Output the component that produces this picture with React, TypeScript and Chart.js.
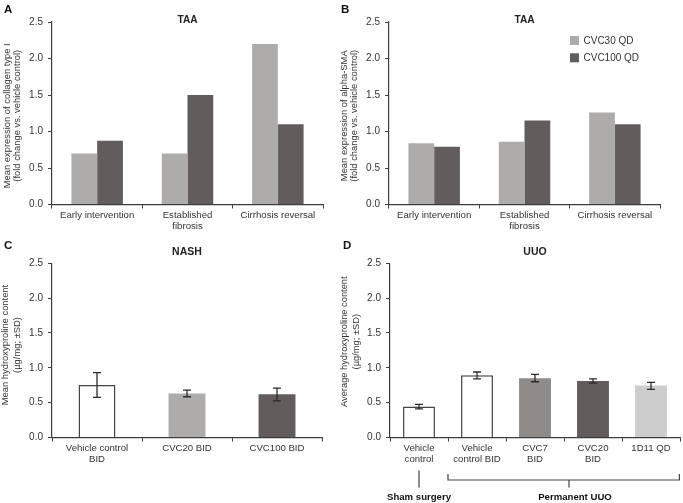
import React, { useEffect, useRef } from 'react';
import { Chart, registerables } from 'chart.js';

Chart.register(...registerables);

// ---------- data ----------
const taaCategories = [['Early intervention'], ['Established', 'fibrosis'], ['Cirrhosis reversal']];
const seriesNames = ['CVC30 QD', 'CVC100 QD'];
const collagenCVC30 = [0.70, 0.70, 2.20];
const collagenCVC100 = [0.875, 1.50, 1.10];
const smaCVC30 = [0.84, 0.86, 1.26];
const smaCVC100 = [0.79, 1.15, 1.10];

const nashCategories = [['Vehicle control', 'BID'], ['CVC20 BID'], ['CVC100 BID']];
const nashMeans = [0.755, 0.63, 0.62];
const nashLow = [0.575, 0.585, 0.525];
const nashHigh = [0.93, 0.68, 0.71];

const uuoCategories = [['Vehicle', 'control'], ['Vehicle', 'control BID'], ['CVC7', 'BID'], ['CVC20', 'BID'], ['1D11 QD']];
const uuoMeans = [0.445, 0.895, 0.85, 0.81, 0.745];
const uuoLow = [0.41, 0.84, 0.80, 0.78, 0.69];
const uuoHigh = [0.475, 0.94, 0.905, 0.84, 0.79];

const yTickValues = [0, 0.5, 1.0, 1.5, 2.0, 2.5];
const yTickLabels = ['0.0', '0.5', '1.0', '1.5', '2.0', '2.5'];

const panelTitles = ['TAA', 'TAA', 'NASH', 'UUO'];
const panelLetters = ['A', 'B', 'C', 'D'];
const yTitlesA = ['Mean expression of collagen type I', '(fold change vs. vehicle control)'];
const yTitlesB = ['Mean expression of alpha-SMA', '(fold change vs. vehicle control)'];
const yTitlesC = ['Mean hydroxyproline content', '(µg/mg; ±SD)'];
const yTitlesD = ['Average hydroxyproline content', '(µg/mg; ±SD)'];
const groupLabels = ['Sham surgery', 'Permanent UUO'];

// ---------- style ----------
const FONT = "'Liberation Sans', Arial, Helvetica, sans-serif";
const AXIS = '#3d3d3d';
const TEXT = '#333333';
const LIGHT = '#adacab';
const DARK = '#625c5c';
const MID = '#8e8b89';
const PALE = '#cdcdcd';
const WHITE = '#ffffff';
const OUTLINE = '#454545';

function xAxis(height: number) {
  return {
    afterFit: (s: any) => {
      s.height = height;
      s.paddingLeft = 0;
      s.paddingRight = 0;
    },
    ticks: {
      color: TEXT,
      font: { size: 9.6, family: FONT, lineHeight: 1.2 },
      padding: 1,
      maxRotation: 0,
      autoSkip: false,
    },
    grid: { offset: true, drawOnChartArea: false, drawTicks: true, tickLength: 4, color: AXIS, lineWidth: 1 },
    border: { display: true, color: AXIS, width: 1.2 },
  };
}

function yAxis(width: number) {
  return {
    min: 0,
    max: 2.5,
    afterFit: (s: any) => {
      s.width = width;
      s.paddingTop = 0;
      s.paddingBottom = 0;
    },
    afterBuildTicks: (s: any) => {
      s.ticks = yTickValues.map((v) => ({ value: v }));
    },
    ticks: {
      color: TEXT,
      font: { size: 10, family: FONT },
      padding: 5,
      callback: (_v: any, i: number) => yTickLabels[i],
    },
    grid: { drawOnChartArea: false, drawTicks: true, tickLength: 4, color: AXIS, lineWidth: 1 },
    border: { display: true, color: AXIS, width: 1.2 },
  };
}

function titlePlugin(text: string, y: number, size: number) {
  return {
    id: 'panelTitle',
    afterDraw(chart: any) {
      const { ctx, chartArea } = chart;
      ctx.save();
      ctx.font = `bold ${size}px ${FONT}`;
      ctx.fillStyle = '#222';
      ctx.textAlign = 'center';
      ctx.textBaseline = 'middle';
      ctx.fillText(text, (chartArea.left + chartArea.right) / 2, y);
      ctx.restore();
    },
  };
}

function yTitlePlugin(lines: string[], xs: number[], yOffset: number, size: number) {
  return {
    id: 'yTitle',
    afterDraw(chart: any) {
      const { ctx, chartArea } = chart;
      const cy = (chartArea.top + chartArea.bottom) / 2 + yOffset;
      ctx.save();
      ctx.font = `${size}px ${FONT}`;
      ctx.fillStyle = TEXT;
      ctx.textAlign = 'center';
      ctx.textBaseline = 'middle';
      lines.forEach((line, i) => {
        ctx.save();
        ctx.translate(xs[i], cy);
        ctx.rotate(-Math.PI / 2);
        ctx.fillText(line, 0, 0);
        ctx.restore();
      });
      ctx.restore();
    },
  };
}

function errorBarPlugin(low: number[], high: number[]) {
  return {
    id: 'errorBars',
    afterDatasetsDraw(chart: any) {
      const meta = chart.getDatasetMeta(0);
      const y = chart.scales.y;
      const ctx = chart.ctx;
      ctx.save();
      ctx.strokeStyle = '#2b2b2b';
      ctx.lineWidth = 1.3;
      meta.data.forEach((bar: any, i: number) => {
        const x = bar.x;
        const yl = y.getPixelForValue(low[i]);
        const yh = y.getPixelForValue(high[i]);
        ctx.beginPath();
        ctx.moveTo(x, yl);
        ctx.lineTo(x, yh);
        ctx.moveTo(x - 4, yl);
        ctx.lineTo(x + 4, yl);
        ctx.moveTo(x - 4, yh);
        ctx.lineTo(x + 4, yh);
        ctx.stroke();
      });
      ctx.restore();
    },
  };
}

const boxLegendPlugin = {
  id: 'boxLegend',
  afterDraw(chart: any) {
    const { ctx, chartArea } = chart;
    const x0 = chartArea.right - 90;
    ctx.save();
    ctx.font = `10px ${FONT}`;
    ctx.textBaseline = 'middle';
    ctx.textAlign = 'left';
    chart.data.datasets.forEach((ds: any, i: number) => {
      const y = chartArea.top + 14 + i * 17.3;
      ctx.fillStyle = ds.backgroundColor;
      ctx.fillRect(x0, y, 9, 9);
      ctx.fillStyle = TEXT;
      ctx.fillText(ds.label, x0 + 13.5, y + 4.8);
    });
    ctx.restore();
  },
};

const bracketPlugin = {
  id: 'groupBrackets',
  afterDraw(chart: any) {
    const { ctx, chartArea } = chart;
    const xs = chart.scales.x;
    const step = xs.getPixelForValue(1) - xs.getPixelForValue(0);
    const c0 = xs.getPixelForValue(0);
    const bStart = c0 + step / 2;
    const bEnd = chartArea.right;
    const base = chartArea.bottom;
    const mid = (bStart + bEnd) / 2 + 5;
    ctx.save();
    ctx.strokeStyle = '#444';
    ctx.lineWidth = 1.2;
    ctx.beginPath();
    // sham surgery
    ctx.moveTo(c0, base + 33);
    ctx.lineTo(c0, base + 50);
    // permanent UUO bracket
    ctx.moveTo(bStart, base + 36.5);
    ctx.lineTo(bStart, base + 42.5);
    ctx.lineTo(bEnd - 0.6, base + 42.5);
    ctx.lineTo(bEnd - 0.6, base + 36.5);
    ctx.moveTo(mid, base + 42.5);
    ctx.lineTo(mid, base + 50);
    ctx.stroke();
    ctx.font = `bold 9.6px ${FONT}`;
    ctx.fillStyle = '#111';
    ctx.textAlign = 'center';
    ctx.textBaseline = 'middle';
    ctx.fillText(groupLabels[0], c0, base + 59.5);
    ctx.fillText(groupLabels[1], mid + 6, base + 59.5);
    ctx.restore();
  },
};

function baseOptions(o: { top: number; right: number; xHeight: number; yWidth: number }) {
  return {
    responsive: false,
    animation: false,
    events: [],
    layout: { padding: { top: o.top, right: o.right, left: 0, bottom: 0 } },
    plugins: { legend: { display: false }, tooltip: { enabled: false }, title: { display: false } },
    scales: { x: xAxis(o.xHeight), y: yAxis(o.yWidth) },
  };
}

function configA() {
  return {
    type: 'bar',
    data: {
      labels: taaCategories,
      datasets: [
        { label: seriesNames[0], data: collagenCVC30, backgroundColor: LIGHT, categoryPercentage: 0.57, barPercentage: 1 },
        { label: seriesNames[1], data: collagenCVC100, backgroundColor: DARK, categoryPercentage: 0.57, barPercentage: 1 },
      ],
    },
    options: baseOptions({ top: 22, right: 17, xHeight: 35.5, yWidth: 52 }),
    plugins: [titlePlugin(panelTitles[0], 20, 10.2), yTitlePlugin(yTitlesA, [7.8, 17.2], 2.5, 9.4)],
  };
}

function configB() {
  return {
    type: 'bar',
    data: {
      labels: taaCategories,
      datasets: [
        { label: seriesNames[0], data: smaCVC30, backgroundColor: LIGHT, categoryPercentage: 0.57, barPercentage: 1 },
        { label: seriesNames[1], data: smaCVC100, backgroundColor: DARK, categoryPercentage: 0.57, barPercentage: 1 },
      ],
    },
    options: baseOptions({ top: 22, right: 23, xHeight: 35.5, yWidth: 49 }),
    plugins: [titlePlugin(panelTitles[1], 20, 10.2), yTitlePlugin(yTitlesB, [4.5, 14.3], 2.5, 9.4), boxLegendPlugin],
  };
}

function configC() {
  return {
    type: 'bar',
    data: {
      labels: nashCategories,
      datasets: [
        {
          label: 'NASH',
          data: nashMeans,
          backgroundColor: [WHITE, LIGHT, DARK],
          borderColor: [OUTLINE, LIGHT, DARK],
          borderWidth: [1.5, 0, 0],
          categoryPercentage: 0.41,
          barPercentage: 1,
        },
      ],
    },
    options: baseOptions({ top: 23.3, right: 18, xHeight: 65.5, yWidth: 52 }),
    plugins: [titlePlugin(panelTitles[2], 12.5, 10.5), yTitlePlugin(yTitlesC, [5.8, 17.3], -5.4, 9.4), errorBarPlugin(nashLow, nashHigh)],
  };
}

function configD() {
  return {
    type: 'bar',
    data: {
      labels: uuoCategories,
      datasets: [
        {
          label: 'UUO',
          data: uuoMeans,
          backgroundColor: [WHITE, WHITE, MID, DARK, PALE],
          borderColor: [OUTLINE, OUTLINE, MID, DARK, PALE],
          borderWidth: [1.5, 1.5, 0, 0, 0],
          categoryPercentage: 0.55,
          barPercentage: 1,
        },
      ],
    },
    options: baseOptions({ top: 23.3, right: 3, xHeight: 65.5, yWidth: 50 }),
    plugins: [titlePlugin(panelTitles[3], 12.5, 10.5), yTitlePlugin(yTitlesD, [4.8, 16.6], -8.7, 9.3), errorBarPlugin(uuoLow, uuoHigh), bracketPlugin],
  };
}

function ChartBox({ make, left, top, width, height }: { make: () => any; left: number; top: number; width: number; height: number }) {
  const ref = useRef<HTMLCanvasElement>(null);
  useEffect(() => {
    const chart = new Chart(ref.current as HTMLCanvasElement, make());
    return () => chart.destroy();
  }, []);
  return (
    <div style={{ position: 'absolute', left, top, width, height }}>
      <canvas ref={ref} width={width} height={height} style={{ display: 'block', width, height }} />
    </div>
  );
}

const letterStyle = (left: number, top: number): React.CSSProperties => ({
  position: 'absolute',
  left,
  top,
  font: `bold 11.5px ${FONT}`,
  lineHeight: '12px',
  color: '#111',
});

export default function App() {
  return (
    <div style={{ position: 'fixed', left: 0, top: 0, width: 683, height: 503, background: '#fff', overflow: 'hidden' }}>
      <ChartBox make={configA} left={0} top={0} width={340} height={240} />
      <ChartBox make={configB} left={340} top={0} width={343} height={240} />
      <ChartBox make={configC} left={0} top={240} width={340} height={263} />
      <ChartBox make={configD} left={340} top={240} width={343} height={263} />
      <div style={letterStyle(4, 3.2)}>{panelLetters[0]}</div>
      <div style={letterStyle(341, 3.2)}>{panelLetters[1]}</div>
      <div style={letterStyle(4, 239)}>{panelLetters[2]}</div>
      <div style={letterStyle(343, 239)}>{panelLetters[3]}</div>
    </div>
  );
}
